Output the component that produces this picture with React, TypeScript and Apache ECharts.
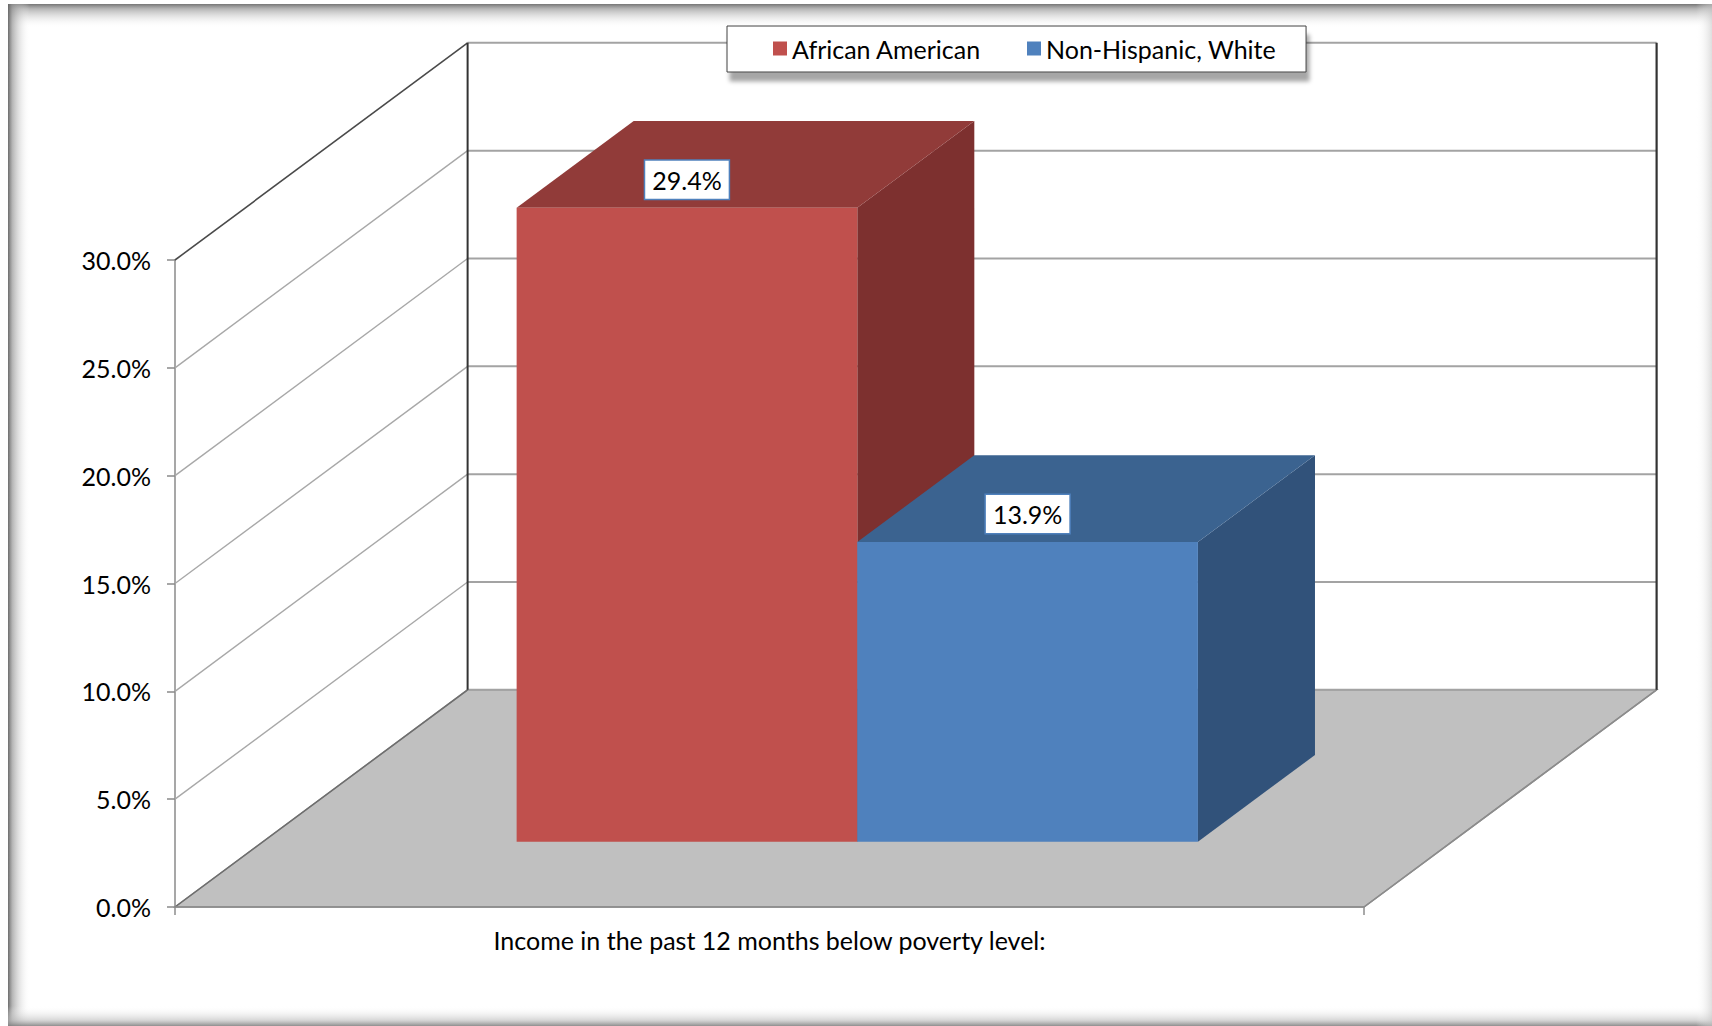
import React, { useEffect, useRef } from "react";
import * as echarts from "echarts";

// ---- data ----
const CATEGORIES = ["Income in the past 12 months below poverty level:"];
const SERIES_NAMES = ["African American", "Non-Hispanic, White"];
const AFRICAN_AMERICAN = [29.4];
const NON_HISPANIC_WHITE = [13.9];
const Y_MIN = 0;
const Y_MAX = 30;
const Y_STEP = 5;
const Y_TICKS = [0, 5, 10, 15, 20, 25, 30];

// ---- styling / geometry constants ----
const FONT = "Lato, 'Open Sans', sans-serif";
const FONT_SIZE = 25;
const DEPTH_X_FRAC = 0.2461; // depth shift in x, as fraction of category band width
const DEPTH_Y_VALUE = 10.07; // depth shift in y, expressed in value units
const BAR_W_FRAC = 0.2865; // width of each bar as fraction of band
const BAR_FRONT = 0.3; // bar front face depth fraction
const BAR_BACK = 0.7; // bar back face depth fraction

const RED = { front: "#c0504d", top: "#913b39", side: "#7d302f" };
const BLUE = { front: "#4f81bd", top: "#3b6390", side: "#31527a" };

function backdropRender(params: any, api: any) {
  const cs = params.coordSys;
  const x0 = cs.x;
  const x1 = cs.x + cs.width;
  const bw = api.size([1, 0])[0];
  const dX = DEPTH_X_FRAC * bw;
  const dY = api.size([0, DEPTH_Y_VALUE])[1];
  const y0 = api.coord([0, 0])[1];
  const children: any[] = [];
  // floor
  children.push({
    type: "polygon",
    shape: {
      points: [
        [x0, y0],
        [x1, y0],
        [x1 + dX, y0 - dY],
        [x0 + dX, y0 - dY],
      ],
    },
    style: { fill: "#c0c0c0", stroke: "#8c8c8c", lineWidth: 1.5 },
  });
  // back wall gridlines and left wall diagonals
  Y_TICKS.forEach((v) => {
    const y = api.coord([0, v])[1];
    const isTop = v === Y_TICKS[Y_TICKS.length - 1];
    const isBottom = v === Y_TICKS[0];
    children.push({
      type: "line",
      shape: { x1: x0 + dX, y1: y - dY, x2: x1 + dX, y2: y - dY },
      style: { stroke: "#a3a3a3", lineWidth: 2 },
    });
    children.push({
      type: "line",
      shape: { x1: x0, y1: y, x2: x0 + dX, y2: y - dY },
      style: {
        stroke: isTop ? "#4a4a4a" : isBottom ? "#6e6e6e" : "#a8a8a8",
        lineWidth: isTop ? 1.6 : 1.4,
      },
    });
  });
  // floor right diagonal
  children.push({
    type: "line",
    shape: { x1: x1, y1: y0, x2: x1 + dX, y2: y0 - dY },
    style: { stroke: "#8c8c8c", lineWidth: 1.5 },
  });
  const yTop = api.coord([0, Y_TICKS[Y_TICKS.length - 1]])[1];
  // back wall verticals
  children.push({
    type: "line",
    shape: { x1: x0 + dX, y1: yTop - dY, x2: x0 + dX, y2: y0 - dY },
    style: { stroke: "#333333", lineWidth: 2 },
  });
  children.push({
    type: "line",
    shape: { x1: x1 + dX, y1: yTop - dY, x2: x1 + dX, y2: y0 - dY },
    style: { stroke: "#333333", lineWidth: 2.2 },
  });
  return { type: "group", children };
}

function makeBarRender(slot: number, colors: { front: string; top: string; side: string }) {
  return (params: any, api: any) => {
    const cat = api.value(0);
    const v = api.value(1);
    const bw = api.size([1, 0])[0];
    const [cx, yv] = api.coord([cat, v]);
    const y0 = api.coord([cat, 0])[1];
    const dX = DEPTH_X_FRAC * bw;
    const dY = api.size([0, DEPTH_Y_VALUE])[1];
    const w = BAR_W_FRAC * bw;
    const xa = cx + (slot - 1) * w;
    const xb = xa + w;
    const fdx = BAR_FRONT * dX;
    const fdy = BAR_FRONT * dY;
    const bdx = BAR_BACK * dX;
    const bdy = BAR_BACK * dY;
    const label = v.toFixed(1) + "%";
    return {
      type: "group",
      children: [
        {
          type: "polygon",
          shape: {
            points: [
              [xb + fdx, yv - fdy],
              [xb + bdx, yv - bdy],
              [xb + bdx, y0 - bdy],
              [xb + fdx, y0 - fdy],
            ],
          },
          style: { fill: colors.side },
        },
        {
          type: "polygon",
          shape: {
            points: [
              [xa + fdx, yv - fdy],
              [xb + fdx, yv - fdy],
              [xb + bdx, yv - bdy],
              [xa + bdx, yv - bdy],
            ],
          },
          style: { fill: colors.top },
        },
        {
          type: "rect",
          shape: { x: xa + fdx, y: yv - fdy, width: w, height: y0 - yv },
          style: { fill: colors.front },
        },
        {
          type: "text",
          x: (xa + xb) / 2 + fdx,
          y: yv - fdy - 28,
          style: {
            text: label,
            font: `${FONT_SIZE}px ${FONT}`,
            fill: "#000",
            align: "center",
            verticalAlign: "middle",
            backgroundColor: "#ffffff",
            borderColor: "#4f81bd",
            borderWidth: 1.5,
            padding: [7, 7, 6, 7],
          },
        },
      ],
    };
  };
}

export default function App() {
  const ref = useRef<HTMLDivElement>(null);
  useEffect(() => {
    if (!ref.current) return;
    const chart = echarts.init(ref.current, null, { renderer: "svg" });
    const option: any = {
      animation: false,
      backgroundColor: "#ffffff",
      textStyle: { fontFamily: FONT },
      grid: { left: 175, top: 260, width: 1189, height: 647, containLabel: false },
      legend: {
        data: SERIES_NAMES.map((name) => ({ name, icon: "rect" })),
        left: 727,
        top: 26,
        orient: "horizontal",
        itemWidth: 14,
        itemHeight: 14,
        itemGap: 46,
        padding: [10, 30, 11, 46],
        backgroundColor: "#ffffff",
        borderColor: "#404040",
        borderWidth: 1,
        shadowColor: "rgba(0,0,0,0.35)",
        shadowBlur: 4,
        shadowOffsetX: 3,
        shadowOffsetY: 9,
        textStyle: { fontSize: FONT_SIZE, color: "#000", fontFamily: FONT },
        selectedMode: false,
      },
      xAxis: {
        type: "category",
        data: CATEGORIES,
        boundaryGap: true,
        axisLine: { show: true, lineStyle: { color: "#8c8c8c", width: 1.5 } },
        axisTick: { show: true, length: 8, lineStyle: { color: "#8c8c8c", width: 1.5 } },
        axisLabel: { fontSize: FONT_SIZE, color: "#000", margin: 20, fontFamily: FONT },
        splitLine: { show: false },
        z: 5,
      },
      yAxis: {
        type: "value",
        min: Y_MIN,
        max: Y_MAX,
        interval: Y_STEP,
        axisLine: { show: true, lineStyle: { color: "#8a8a8a", width: 1.5 } },
        axisTick: { show: true, length: 8, lineStyle: { color: "#8a8a8a", width: 1.5 } },
        axisLabel: {
          fontSize: FONT_SIZE,
          color: "#000",
          margin: 24,
          fontFamily: FONT,
          formatter: (v: number) => v.toFixed(1) + "%",
        },
        splitLine: { show: false },
      },
      series: [
        {
          type: "custom",
          name: "backdrop",
          silent: true,
          z: 1,
          data: [[0, 0]],
          renderItem: backdropRender,
        },
        {
          type: "custom",
          name: SERIES_NAMES[0],
          z: 3,
          itemStyle: { color: RED.front },
          data: AFRICAN_AMERICAN.map((v, i) => [i, v]),
          renderItem: makeBarRender(0, RED),
        },
        {
          type: "custom",
          name: SERIES_NAMES[1],
          z: 3,
          itemStyle: { color: BLUE.front },
          data: NON_HISPANIC_WHITE.map((v, i) => [i, v]),
          renderItem: makeBarRender(1, BLUE),
        },
      ],
      graphic: [
        {
          type: "rect",
          silent: true,
          shape: { x: 8, y: 4, width: 1704, height: 24 },
          style: {
            fill: {
              type: "linear", x: 0, y: 0, x2: 0, y2: 1,
              colorStops: [
                { offset: 0, color: "rgba(110,110,110,0.95)" },
                { offset: 0.2, color: "rgba(150,150,150,0.7)" },
                { offset: 1, color: "rgba(255,255,255,0)" },
              ],
            },
          },
        },
        {
          type: "rect",
          silent: true,
          shape: { x: 8, y: 4, width: 22, height: 1022 },
          style: {
            fill: {
              type: "linear", x: 0, y: 0, x2: 1, y2: 0,
              colorStops: [
                { offset: 0, color: "rgba(100,100,100,0.95)" },
                { offset: 0.2, color: "rgba(150,150,150,0.7)" },
                { offset: 1, color: "rgba(255,255,255,0)" },
              ],
            },
          },
        },
        {
          type: "rect",
          silent: true,
          shape: { x: 8, y: 1006, width: 1704, height: 20 },
          style: {
            fill: {
              type: "linear", x: 0, y: 0, x2: 0, y2: 1,
              colorStops: [
                { offset: 0, color: "rgba(255,255,255,0)" },
                { offset: 0.7, color: "rgba(190,190,190,0.6)" },
                { offset: 1, color: "rgba(130,130,130,0.9)" },
              ],
            },
          },
        },
        {
          type: "rect",
          silent: true,
          shape: { x: 1696, y: 4, width: 16, height: 1022 },
          style: {
            fill: {
              type: "linear", x: 0, y: 0, x2: 1, y2: 0,
              colorStops: [
                { offset: 0, color: "rgba(255,255,255,0)" },
                { offset: 1, color: "rgba(200,200,200,0.6)" },
              ],
            },
          },
        },
      ],
    };
    chart.setOption(option);
    return () => chart.dispose();
  }, []);
  return (
    <div
      ref={ref}
      style={{ position: "fixed", left: 0, top: 0, width: 1712, height: 1026 }}
    />
  );
}
